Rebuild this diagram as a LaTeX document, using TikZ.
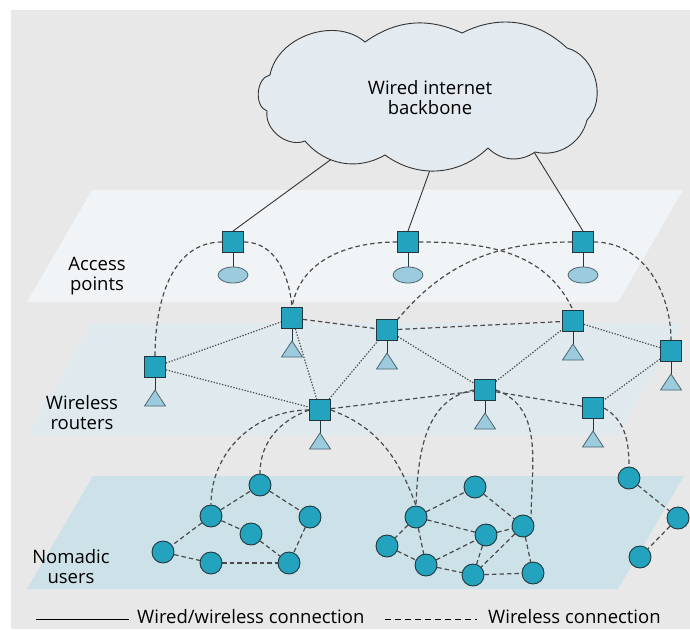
\documentclass[tikz,border=0pt]{standalone}
\usepackage{fontspec}
\setmainfont{Open Sans}
\usetikzlibrary{shapes.geometric}
\definecolor{bggray}{HTML}{E8E8E8}
\definecolor{applane}{HTML}{F0F4F7}
\definecolor{rtplane}{HTML}{E0EAEE}
\definecolor{usplane}{HTML}{CDE1E8}
\definecolor{tealn}{HTML}{24A3BF}
\definecolor{lightb}{HTML}{9CCBDE}
\definecolor{nodeline}{HTML}{22363D}
\definecolor{triline}{HTML}{4E6670}
\definecolor{linegray}{HTML}{4A4A4A}
\definecolor{cloudfill}{HTML}{E3EAF0}
\pgfdeclarelayer{bg}
\pgfdeclarelayer{edges}
\pgfsetlayers{bg,edges,main}
\tikzset{
  sq/.style={rectangle, draw=nodeline, fill=tealn, minimum size=21pt, inner sep=0pt, line width=0.9pt},
  usr/.style={circle, draw=nodeline, fill=tealn, minimum size=22pt, inner sep=0pt, line width=0.9pt},
  wl/.style={draw=linegray, line width=1.2pt, dash pattern=on 4.5pt off 3pt},
  dt/.style={draw=linegray, line width=1.2pt, dash pattern=on 1.3pt off 1.6pt},
  wired/.style={draw=black!80, line width=0.9pt},
  tri/.style={fill=lightb, draw=triline, line width=0.8pt},
  stem/.style={draw=nodeline, line width=1pt},
  lbl/.style={align=center, font=\fontsize{18.5}{20}\selectfont, inner sep=0pt},
  cloudst/.style={draw=black!80, fill=cloudfill, line width=0.9pt}
}
\newcommand{\wrouter}[3]{%
  \draw[stem] (#2,-#3-10) -- (#2,-#3-23);
  \draw[tri] (#2,-#3-23) -- (#2+10.5,-#3-39) -- (#2-10.5,-#3-39) -- cycle;
  \node[sq] (#1) at (#2,-#3) {};}
\newcommand{\apoint}[3]{%
  \draw[stem] (#2,-#3-10) -- (#2,-#3-25);
  \draw[tri] (#2,-#3-33) ellipse [x radius=15, y radius=8];
  \node[sq] (#1) at (#2,-#3) {};}
\newcommand{\wuser}[3]{\node[usr] (#1) at (#2,-#3) {};}
\begin{document}
\begin{tikzpicture}[x=1pt,y=1pt]
\useasboundingbox (0,0) rectangle (690,-629);
\begin{pgfonlayer}{bg}
\fill[bggray] (11,-10) rectangle (690,-629);
\fill[applane] (92,-190) -- (683,-190) -- (618,-302) -- (27,-302) -- cycle;
\fill[rtplane] (92,-323) -- (683,-323) -- (618,-435) -- (27,-435) -- cycle;
\fill[usplane] (93,-476) -- (684,-476) -- (618,-589) -- (27,-589) -- cycle;
\end{pgfonlayer}

% cloud
\draw[cloudst] (270,-75) to[bend left=60] (365,-42) to[bend left=30] (462,-33)
  to[bend left=35] (567,-48) to[bend left=60] (587,-120) to[bend left=45] (535,-152)
  to[bend left=40] (488,-148) to[bend left=40] (385,-155) to[bend left=40] (305,-141)
  to[bend left=60] (267,-111) to[bend left=75] cycle;
\node[lbl] (cloudtxt) at (430,-98) {Wired internet\\backbone};
\coordinate (c1) at (333,-158);
\coordinate (c2) at (430,-170);
\coordinate (c3) at (534,-152);

% access points
\apoint{ap1}{233}{242}
\apoint{ap2}{408}{242}
\apoint{ap3}{583}{242}
% routers
\wrouter{r1}{155}{367}
\wrouter{r2}{292}{318}
\wrouter{r3}{320}{410}
\wrouter{r4}{387}{330}
\wrouter{r5}{573}{321}
\wrouter{r6}{671}{351}
\wrouter{r7}{485}{390}
\wrouter{r8}{593}{408}
% users
\wuser{u1}{260}{485}
\wuser{u2}{211}{516}
\wuser{u3}{310}{517}
\wuser{u4}{251}{534}
\wuser{u5}{163}{552}
\wuser{u6}{211}{563}
\wuser{u7}{289}{563}
\wuser{v1}{475}{487}
\wuser{v2}{416}{517}
\wuser{v3}{387}{546}
\wuser{v4}{486}{535}
\wuser{v5}{523}{526}
\wuser{v6}{426}{565}
\wuser{v7}{473}{575}
\wuser{v8}{533}{573}
\wuser{w1}{629}{478}
\wuser{w2}{678}{518}
\wuser{w3}{640}{557}

\begin{pgfonlayer}{edges}
% wired
\draw[wired] (c1) -- (ap1.north);
\draw[wired] (c2) -- (ap2.north);
\draw[wired] (c3) -- (ap3.north);
% AP to routers
\draw[wl] (ap1.west) to[out=180,in=90] (r1.north);
\draw[wl] (ap1.east) to[out=0,in=95] (r2.north);
\draw[wl] (ap2.west) to[out=180,in=80] (r2.north);
\draw[wl] (ap2.east) to[out=0,in=115] (r5.north);
\draw[wl] (ap3.west) to[out=180,in=50] (r4.north east);
\draw[wl] (ap3.east) to[out=0,in=90] (r6.north);
% routers
\draw[dt] (r1) -- (r2);
\draw[dt] (r1) -- (r3);
\draw[dt] (r2) -- (r3);
\draw[dt] (r3) -- (r4);
\draw[dt] (r4) -- (r7);
\draw[dt] (r7) -- (r5);
\draw[dt] (r5) -- (r6);
\draw[dt] (r6) -- (r8);
\draw[wl] (r2) -- (r4);
\draw[wl] (r4) -- (r5);
\draw[wl] (r3) -- (r7);
\draw[wl] (r7) -- (r8);
% routers to users
\draw[wl] (r3.west) to[out=180,in=90] (u2.north);
\draw[wl] (r3.west) to[out=200,in=90] (u1.north);
\draw[wl] (r3.east) to[out=-20,in=110] (v2.north);
\draw[wl] (r7.west) to[out=190,in=88] (v2.north);
\draw[wl] (r7.east) to[out=-20,in=90] (v5.north east);
\draw[wl] (r8.east) to[out=-30,in=90] (w1.north);
% users
\draw[wl] (u2) -- (u1);
\draw[wl] (u1) -- (u3);
\draw[wl] (u2) -- (u4);
\draw[wl] (u4) -- (u7);
\draw[wl] (u2) -- (u5);
\draw[wl] (u5) -- (u6);
\draw[wl] (u6) -- (u7);
\draw[wl] (u3) -- (u7);
\draw[wl] (v2) -- (v1);
\draw[wl] (v1) -- (v5);
\draw[wl] (v2) -- (v4);
\draw[wl] (v2) -- (v3);
\draw[wl] (v2) -- (v6);
\draw[wl] (v3) -- (v6);
\draw[wl] (v6) -- (v4);
\draw[wl] (v6) -- (v7);
\draw[wl] (v4) -- (v5);
\draw[wl] (v4) -- (v7);
\draw[wl] (v5) -- (v7);
\draw[wl] (v7) -- (v8);
\draw[wl] (v5) -- (v8);
\draw[wl] (w1) -- (w2);
\draw[wl] (w2) -- (w3);
\end{pgfonlayer}

% labels
\node[lbl] (lap) at (97,-276) {Access\\points};
\node[lbl] (lrt) at (82,-413) {Wireless\\routers};
\node[lbl] (lus) at (71,-567) {Nomadic\\users};

% legend
\coordinate (lg1a) at (36,-619);
\coordinate (lg1b) at (129,-619);
\coordinate (lg2a) at (385,-619);
\coordinate (lg2b) at (477,-619);
\draw[draw=black, line width=1pt] (lg1a) -- (lg1b);
\draw[draw=black, line width=1pt, dash pattern=on 6pt off 4pt] (lg2a) -- (lg2b);
\node[lbl, anchor=west] (lt1) at (137,-617) {Wired/wireless connection};
\node[lbl, anchor=west] (lt2) at (488,-617) {Wireless connection};
\end{tikzpicture}
\end{document}
